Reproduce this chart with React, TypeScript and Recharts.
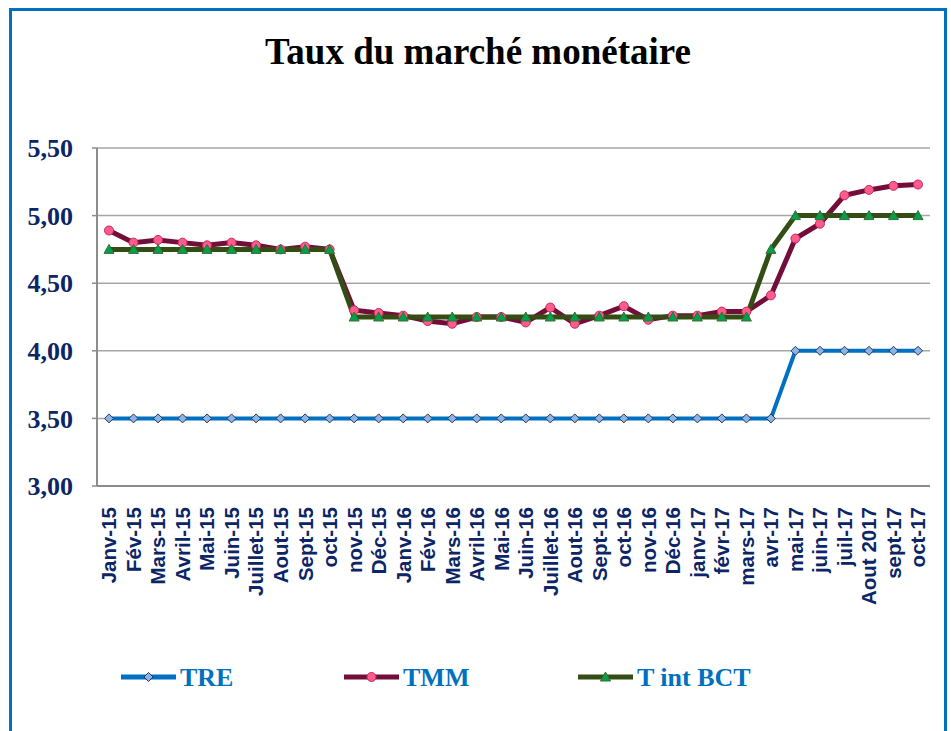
import React from "react";
import {
  LineChart,
  Line,
  XAxis,
  YAxis,
  CartesianGrid,
} from "recharts";

const months = [
  "Janv-15", "Fév-15", "Mars-15", "Avril-15", "Mai-15", "Juin-15",
  "Juillet-15", "Aout-15", "Sept-15", "oct-15", "nov-15", "Déc-15",
  "Janv-16", "Fév-16", "Mars-16", "Avril-16", "Mai-16", "Juin-16",
  "Juillet-16", "Aout-16", "Sept-16", "oct-16", "nov-16", "Déc-16",
  "janv-17", "févr-17", "mars-17", "avr-17", "mai-17", "juin-17",
  "juil-17", "Aout 2017", "sept-17", "oct-17",
];

const tre = [
  3.5, 3.5, 3.5, 3.5, 3.5, 3.5, 3.5, 3.5, 3.5, 3.5, 3.5, 3.5,
  3.5, 3.5, 3.5, 3.5, 3.5, 3.5, 3.5, 3.5, 3.5, 3.5, 3.5, 3.5,
  3.5, 3.5, 3.5, 3.5, 4.0, 4.0, 4.0, 4.0, 4.0, 4.0,
];

const tmm = [
  4.89, 4.8, 4.82, 4.8, 4.78, 4.8, 4.78, 4.75, 4.77, 4.75, 4.3, 4.28,
  4.26, 4.22, 4.2, 4.25, 4.25, 4.21, 4.32, 4.2, 4.26, 4.33, 4.23, 4.26,
  4.26, 4.29, 4.29, 4.41, 4.83, 4.94, 5.15, 5.19, 5.22, 5.23,
];

const tintBct = [
  4.75, 4.75, 4.75, 4.75, 4.75, 4.75, 4.75, 4.75, 4.75, 4.75, 4.25, 4.25,
  4.25, 4.25, 4.25, 4.25, 4.25, 4.25, 4.25, 4.25, 4.25, 4.25, 4.25, 4.25,
  4.25, 4.25, 4.25, 4.75, 5.0, 5.0, 5.0, 5.0, 5.0, 5.0,
];

const yTicks = [3, 3.5, 4, 4.5, 5, 5.5];

const data = months.map((m, i) => ({
  month: m,
  TRE: tre[i],
  TMM: tmm[i],
  BCT: tintBct[i],
}));

const NAVY = "#0B2566";
const SERIF = "'Liberation Serif', 'Times New Roman', serif";
const SANS = "'Liberation Sans', Arial, sans-serif";

const diamond = (cx: number, cy: number, k?: any) => (
  <path
    key={k}
    d={`M${cx},${cy - 4.5}L${cx + 4.5},${cy}L${cx},${cy + 4.5}L${cx - 4.5},${cy}Z`}
    fill="#8DB4E2"
    stroke="#1F3864"
    strokeWidth={1}
  />
);

const circle = (cx: number, cy: number, k?: any) => (
  <circle key={k} cx={cx} cy={cy} r={4.5} fill="#FF5C8D" stroke="#C02A5C" strokeWidth={1} />
);

const triangle = (cx: number, cy: number, k?: any) => (
  <path
    key={k}
    d={`M${cx},${cy - 5}L${cx + 5},${cy + 4}L${cx - 5},${cy + 4}Z`}
    fill="#00A050"
    stroke="#3C6E2C"
    strokeWidth={1}
  />
);

const XTick = (props: any) => {
  const { x, y, payload } = props;
  return (
    <g transform={`translate(${x},${y + 13}) rotate(-90)`}>
      <text
        x={0}
        y={0}
        dy="0.36em"
        textAnchor="end"
        fill={NAVY}
        fontFamily={SANS}
        fontWeight="bold"
        fontSize={20.5}
      >
        {payload.value}
      </text>
    </g>
  );
};

export default function App() {
  return (
    <div
      style={{
        position: "absolute",
        left: 0,
        top: 0,
        width: 951,
        height: 731,
        overflow: "hidden",
        background: "#fff",
      }}
    >
      <div
        style={{
          position: "absolute",
          left: 9,
          top: 8,
          width: 932,
          height: 740,
          border: "3px solid #0070C0",
        }}
      />
      <LineChart
        width={951}
        height={731}
        data={data}
        margin={{ top: 148, right: 21, left: 17, bottom: 125 }}
        style={{ position: "absolute", left: 0, top: 0 }}
      >
        <CartesianGrid vertical={false} stroke="#A6A6A6" strokeWidth={1.5} />
        <XAxis
          dataKey="month"
          interval={0}
          height={120}
          padding={{ left: 12, right: 12 }}
          axisLine={{ stroke: "#8C8C8C", strokeWidth: 2 }}
          tickLine={false}
          tick={<XTick />}
        />
        <YAxis
          width={80}
          domain={[3, 5.5]}
          ticks={yTicks}
          interval={0}
          tickFormatter={(v: number) => v.toFixed(2).replace(".", ",")}
          axisLine={{ stroke: "#8C8C8C", strokeWidth: 2 }}
          tickLine={{ stroke: "#8C8C8C", strokeWidth: 1.5 }}
          tickSize={5}
          tickMargin={19}
          tick={{ fill: NAVY, fontFamily: SERIF, fontWeight: "bold", fontSize: 26 }}
        />
        <Line
          dataKey="TRE"
          stroke="#0070C0"
          strokeWidth={4}
          isAnimationActive={false}
          dot={(p: any) => diamond(p.cx, p.cy, p.index)}
        />
        <Line
          dataKey="TMM"
          stroke="#730D3A"
          strokeWidth={5}
          isAnimationActive={false}
          dot={(p: any) => circle(p.cx, p.cy, p.index)}
        />
        <Line
          dataKey="BCT"
          stroke="#334D14"
          strokeWidth={5}
          isAnimationActive={false}
          dot={(p: any) => triangle(p.cx, p.cy, p.index)}
        />
      </LineChart>
      <svg
        width={951}
        height={731}
        style={{ position: "absolute", left: 0, top: 0, pointerEvents: "none" }}
      >
        <text
          x={478}
          y={64}
          textAnchor="middle"
          fontFamily={SERIF}
          fontWeight="bold"
          fontSize={37}
          fill="#000"
        >
          Taux du marché monétaire
        </text>
        {[
          { x: 121, label: "TRE", color: "#0070C0", mark: diamond },
          { x: 344, label: "TMM", color: "#730D3A", mark: circle },
          { x: 578, label: "T int BCT", color: "#334D14", mark: triangle },
        ].map((it) => (
          <g key={it.label}>
            <line x1={it.x} y1={677} x2={it.x + 55} y2={677} stroke={it.color} strokeWidth={5} />
            {it.mark(it.x + 27.5, 677)}
            <text
              x={it.x + 59}
              y={686}
              fontFamily={SERIF}
              fontWeight="bold"
              fontSize={26}
              fill="#0070C0"
            >
              {it.label}
            </text>
          </g>
        ))}
      </svg>
    </div>
  );
}
